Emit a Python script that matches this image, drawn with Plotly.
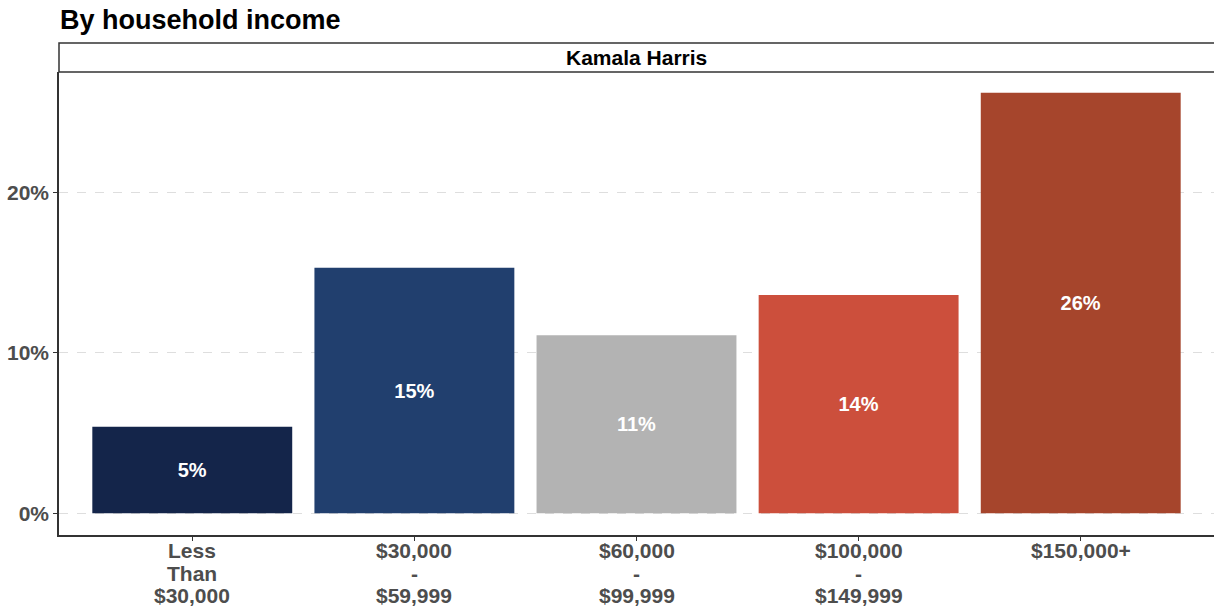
import plotly.graph_objects as go

# Data
categories = ["Less<br>Than<br>$30,000", "$30,000<br>-<br>$59,999", "$60,000<br>-<br>$99,999",
              "$100,000<br>-<br>$149,999", "$150,000+"]
values = [5.4, 15.3, 11.1, 13.6, 26.2]
bar_colors = ["#14254a", "#213f6e", "#b3b3b3", "#cc4f3c", "#a6452c"]
y_ticks = [0, 10, 20]
y_tick_labels = ["0%", "10%", "20%"]
facet_label = "Kamala Harris"
subtitle = "By household income"

FONT = "Liberation Sans, Arial, sans-serif"
TICK_GREY = "#4d4d4d"

fig = go.Figure(go.Bar(
    x=categories,
    y=values,
    marker=dict(color=bar_colors, line=dict(width=0)),
    width=0.9,
    texttemplate="%{y:.0f}%",
    textposition="inside",
    insidetextanchor="middle",
    textangle=0,
    textfont=dict(family=FONT, size=20, color="white", weight="bold"),
    hoverinfo="x+y",
))

fig.update_layout(
    width=1214, height=607,
    margin=dict(l=59, r=0, t=72, b=72, autoexpand=False),
    paper_bgcolor="white", plot_bgcolor="white",
    showlegend=False,
    font=dict(family=FONT, color=TICK_GREY),
    xaxis=dict(
        range=[-0.6, 4.6], automargin=False,
        showgrid=False, zeroline=False,
        showline=True, linecolor="#333333", linewidth=1.5,
        ticks="outside", ticklen=4, tickcolor="#333333", tickwidth=1.2,
        showticklabels=False,
    ),
    yaxis=dict(
        range=[-1.35, 27.5], automargin=False,
        tickvals=y_ticks, ticktext=y_tick_labels,
        showgrid=True, gridcolor="#dedede", griddash="dash", gridwidth=1,
        zeroline=False,
        showline=True, linecolor="#333333", linewidth=1.5,
        ticks="outside", ticklen=4, tickcolor="#333333", tickwidth=1.2,
        tickfont=dict(family=FONT, size=21, color=TICK_GREY, weight="bold"),
    ),
)

# X tick labels, one line per annotation (tighter line spacing like the reference)
for cat in categories:
    for j, line in enumerate(cat.split("<br>")):
        fig.add_annotation(
            text=line, x=cat, xref="x", yref="paper", y=0,
            xanchor="center", yanchor="middle", yshift=-(15.5 + 22.5 * j),
            showarrow=False,
            font=dict(family=FONT, size=21, color=TICK_GREY, weight="bold"),
        )

# Facet strip (runs off the right edge like the reference)
fig.add_shape(
    type="rect", xref="paper", yref="paper",
    x0=0, x1=1.003, ysizemode="pixel", yanchor=1, y0=0, y1=29,
    fillcolor="white", line=dict(color="#333333", width=1.5),
)
fig.add_annotation(
    text=facet_label, xref="paper", yref="paper", x=0.5, y=1,
    xanchor="center", yanchor="middle", yshift=14.5, showarrow=False,
    font=dict(family=FONT, size=21, color="black", weight="bold"),
)

# Subtitle
fig.add_annotation(
    text=subtitle, xref="paper", yref="paper", x=0, y=1,
    xanchor="left", yanchor="middle", yshift=52, xshift=-1, showarrow=False,
    font=dict(family=FONT, size=27, color="black", weight="bold"),
)

# remove the default 8px page margin so the figure fills the window exactly
fig.write_html(
    "out.html",
    config={"displayModeBar": False},
    post_script="document.body.style.margin='0px';",
)
